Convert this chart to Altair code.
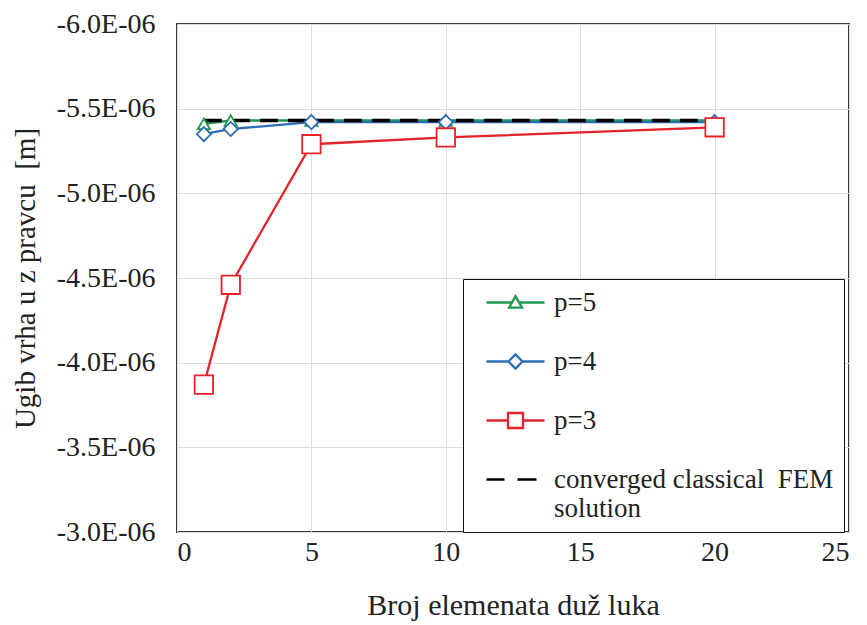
import altair as alt
import pandas as pd

# ---- data ----
x_vals = [1, 2, 5, 10, 20]
p5_vals = [-5.41e-6, -5.43e-6, -5.43e-6, -5.43e-6, -5.43e-6]
p4_vals = [-5.35e-6, -5.38e-6, -5.42e-6, -5.42e-6, -5.42e-6]
p3_vals = [-3.87e-6, -4.46e-6, -5.29e-6, -5.33e-6, -5.39e-6]
fem_x = [1, 20]
fem_y = [-5.43e-6, -5.43e-6]

series_names = ["p=5", "p=4", "p=3", "converged classical  FEM solution"]
series_colors = ["#1e9a50", "#2c6db5", "#e3222b", "#000000"]
x_ticks = [0, 5, 10, 15, 20, 25]
y_ticks = [-6.0e-6, -5.5e-6, -5.0e-6, -4.5e-6, -4.0e-6, -3.5e-6, -3.0e-6]
x_title = "Broj elemenata duž luka"
y_title = "Ugib vrha u z pravcu\u00a0\u00a0[m]"

# legend symbols (line + marker) as SVG paths
legend_paths = [
    "M-3.625,0L-0.45,0M0.45,0L3.625,0M0,-0.8L0.81,0.65L-0.81,0.65Z",
    "M-3.625,0L-0.875,0M0.875,0L3.625,0M-0.875,0L0,-0.875L0.875,0L0,0.875Z",
    "M-3.625,0L-0.94,0M0.94,0L3.625,0M-0.94,-0.94L0.94,-0.94L0.94,0.94L-0.94,0.94Z",
    "M-3.625,0L-1.375,0M0.25,0L2.625,0",
]

rows = []
for name, vals in [("p=5", p5_vals), ("p=4", p4_vals), ("p=3", p3_vals)]:
    for xv, yv in zip(x_vals, vals):
        rows.append({"x": xv, "y": yv, "series": name})
df = pd.DataFrame(rows)
fem_df = pd.DataFrame({"x": fem_x, "y": fem_y, "series": [series_names[3]] * 2})
leg_df = pd.DataFrame({"series": series_names})

FONT = "Liberation Serif"

stroke_scale = alt.Scale(domain=series_names, range=series_colors)
legend = alt.Legend(
    title=None,
    orient="none",
    direction="vertical",
    legendX=286,
    legendY=255,
    padding=10,
    rowPadding=31,
    fillColor="white",
    strokeColor="#111111",
    symbolSize=256,
    symbolStrokeWidth=2.3,
    symbolOpacity=1,
    symbolFillColor="white",
    symbolOffset=29,
    labelFont=FONT,
    labelFontSize=27,
    labelColor="#222222",
    labelOffset=25,
    labelLimit=500,
    labelExpr="datum.label == 'converged classical  FEM solution' ? ['converged classical\u00a0\u00a0FEM', 'solution'] : datum.label",
)

x_enc = alt.X(
    "x:Q",
    scale=alt.Scale(domain=[0, 25], nice=False, zero=False),
    axis=alt.Axis(
        values=x_ticks,
        title=x_title,
        titleX=336,
        titleY=73,
        titleBaseline="middle",
        labelPadding=6,
        labelFont=FONT,
        labelFontSize=28,
        titleFont=FONT,
        titleFontSize=30,
    ),
)
y_enc = alt.Y(
    "y:Q",
    scale=alt.Scale(domain=[-6.0e-6, -3.0e-6], nice=False, zero=False, reverse=True),
    axis=alt.Axis(
        values=y_ticks,
        title=y_title,
        titleX=-152,
        titleAlign="center",
        titleBaseline="middle",
        labelPadding=22,
        labelFont=FONT,
        labelFontSize=28,
        titleFont=FONT,
        titleFontSize=29,
        labelExpr="'-' + format(abs(datum.value) * 1e6, '.1f') + 'E-06'",
    ),
)

lines = alt.Chart(df).mark_line(strokeWidth=2.3).encode(
    x=x_enc, y=y_enc,
    stroke=alt.Stroke("series:N", scale=stroke_scale, legend=legend),
)

fem_line = alt.Chart(fem_df).mark_line(strokeWidth=3.5, strokeDash=[18, 10]).encode(
    x="x:Q", y="y:Q",
    stroke=alt.Stroke("series:N", scale=stroke_scale, legend=legend),
)

def pts(name, shape, size):
    return alt.Chart(df).transform_filter(alt.datum.series == name).mark_point(
        shape=shape, size=size, filled=True, fill="white", strokeWidth=1.8, opacity=1
    ).encode(
        x="x:Q", y="y:Q",
        stroke=alt.Stroke("series:N", scale=stroke_scale, legend=legend),
    )

pts5 = pts("p=5", "triangle-up", 150)
pts4 = pts("p=4", "M-1,0L0,-1L1,0L0,1Z", 200)
pts3 = pts("p=3", "square", 340)

legend_layer = alt.Chart(leg_df).mark_point().encode(
    x=alt.value(0),
    y=alt.value(0),
    opacity=alt.value(0),
    shape=alt.Shape("series:N", scale=alt.Scale(domain=series_names, range=legend_paths), legend=legend),
    stroke=alt.Stroke("series:N", scale=stroke_scale, legend=legend),
)

chart = alt.layer(lines, fem_line, pts5, pts4, pts3, legend_layer).properties(
    width=672,
    height=508,
    autosize=alt.AutoSizeParams(type="none"),
    padding={"left": 169, "top": 16, "right": 10, "bottom": 92},
    background="white",
).configure(
    font=FONT,
).configure_view(
    stroke="#3a3a3a",
    strokeWidth=2,
).configure_axis(
    grid=True,
    gridColor="#dedede",
    gridWidth=1,
    domain=False,
    ticks=False,
    tickSize=0,
    labelFont=FONT,
    labelFontSize=28,
    labelColor="#222222",
    titleFont=FONT,
    titleFontSize=30,
    titleFontWeight="normal",
    titleColor="#222222",
)

chart.save("out.html", embed_options={"renderer": "svg", "actions": False})
